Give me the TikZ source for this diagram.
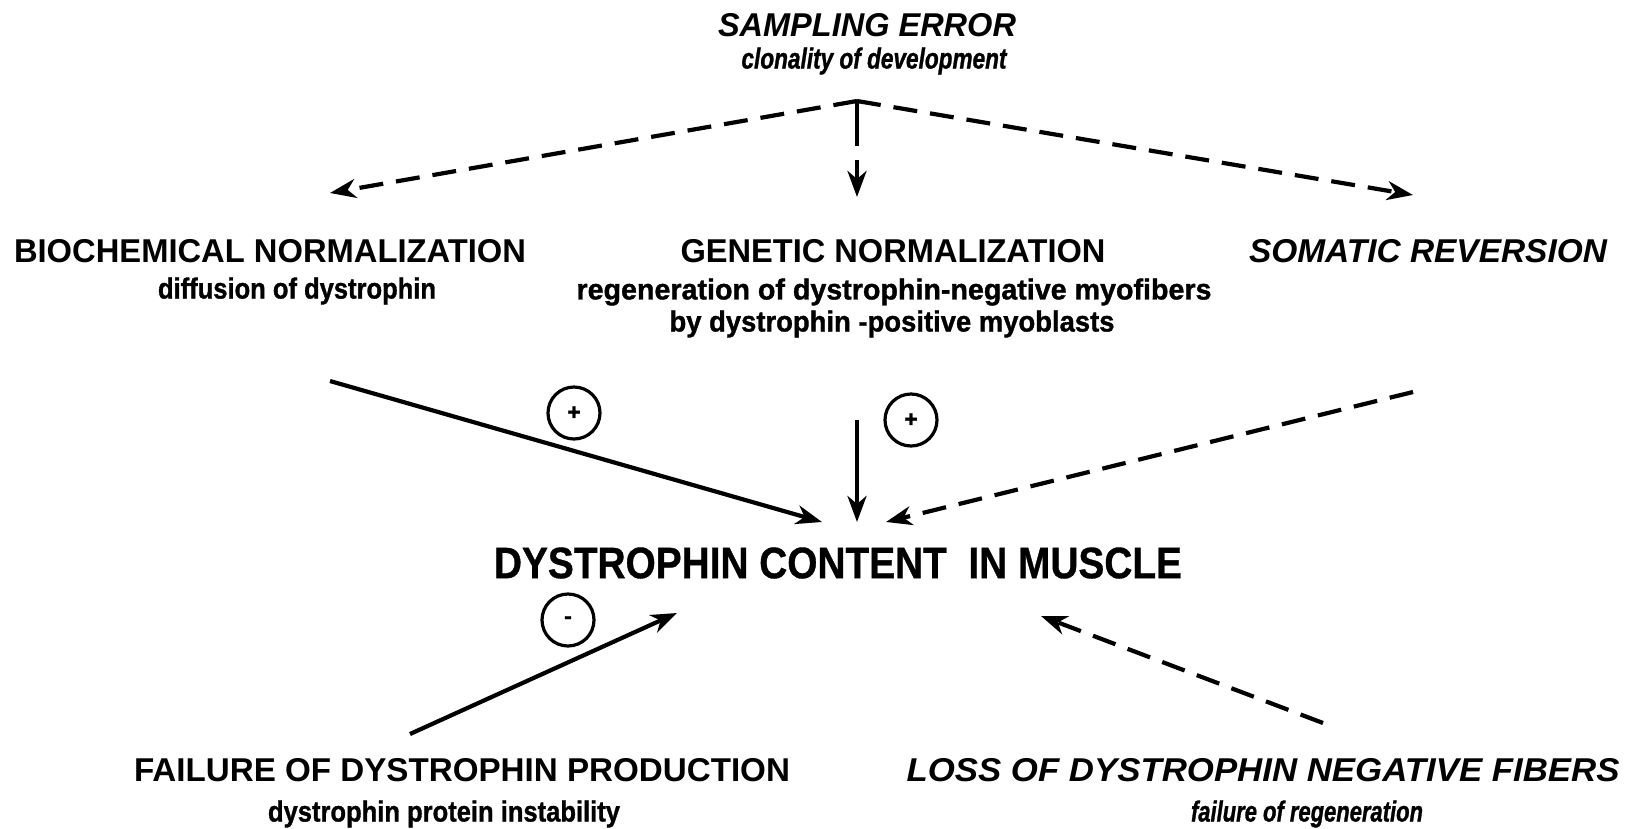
\documentclass[tikz,border=0pt]{standalone}
\usepackage{graphicx}
\usepackage{fontspec}
\setmainfont{Liberation Sans}
\newfontfamily\subf{Liberation Sans Bold}[FakeBold=1.2]
\newfontfamily\subfi{Liberation Sans Bold Italic}[FakeBold=1.2]
\newfontfamily\bigf{Liberation Sans Bold}[FakeBold=0.8]
\usetikzlibrary{arrows.meta}
\newsavebox\fitbox
\newlength\fitlen
\newcommand\fitto[2]{\sbox\fitbox{#2}\setlength\fitlen{\wd\fitbox}\pgfmathsetmacro\fitr{#1/\fitlen}\scalebox{\fitr}[1]{\usebox\fitbox}}
\begin{document}
\begin{tikzpicture}[x=1pt,y=-1pt,
  ttl/.style={font=\bfseries\fontsize{33}{36}\selectfont, inner sep=0pt},
  sub/.style={font=\subf\fontsize{29}{32}\selectfont, inner sep=0pt},
  subi/.style={font=\subfi\fontsize{29}{32}\selectfont, inner sep=0pt},
  big/.style={font=\bigf\fontsize{44}{48}\selectfont, inner sep=0pt},
  sgn/.style={circle, draw, line width=3.2pt, minimum size=52pt, inner sep=0pt, font=\subf\fontsize{23}{23}\selectfont},
  arr/.style={line width=4.2pt, -{Stealth[length=26pt,width=19pt,inset=8pt]}},
  dsh/.style={arr, dash pattern=on 24pt off 13pt},
]
\useasboundingbox (0,0) rectangle (1627,828);
% texts
\node[ttl] (samp) at (867,25) {\fitto{298}{\itshape SAMPLING ERROR}};
\node[subi] (clon) at (874,61) {\fitto{265}{clonality of development}};
\node[ttl] (bio) at (270,251) {\fitto{512}{BIOCHEMICAL NORMALIZATION}};
\node[sub] (diff) at (297,291) {\fitto{278}{diffusion of dystrophin}};
\node[ttl] (gen) at (893,251) {\fitto{425}{GENETIC NORMALIZATION}};
\node[sub] (regen) at (894,292) {\fitto{635}{regeneration of dystrophin-negative myofibers}};
\node[sub] (bydys) at (892,324) {\fitto{445}{by dystrophin -positive myoblasts}};
\node[ttl] (som) at (1428,251) {\fitto{358}{\itshape SOMATIC REVERSION}};
\node[big] (dys) at (838,563) {\fitto{688}{DYSTROPHIN CONTENT\ \ IN MUSCLE}};
\node[ttl] (fail) at (462,770) {\fitto{656}{FAILURE OF DYSTROPHIN PRODUCTION}};
\node[sub] (inst) at (444,814) {\fitto{352}{dystrophin protein instability}};
\node[ttl] (loss) at (1263,770) {\fitto{713}{\itshape LOSS OF DYSTROPHIN NEGATIVE FIBERS}};
\node[subi] (freg) at (1307,814) {\fitto{232}{failure of regeneration}};
% signs
\node[sgn] (p1) at (574,413) {+};
\node[sgn] (p2) at (911,420) {+};
\node[sgn] (m1) at (568,620) {-};
% connector ends
\coordinate (apex) at (857,101);
\coordinate (sL) at (330,193);
\coordinate (sR) at (1413,195);
\coordinate (sM) at (857,197);
\coordinate (bS) at (330,381);
\coordinate (bE) at (822,522);
\coordinate (gS) at (857,420);
\coordinate (gE) at (857,522);
\coordinate (rS) at (1413,392);
\coordinate (rE) at (886,522);
\coordinate (fS) at (410,734);
\coordinate (fE) at (677,613);
\coordinate (lS) at (1323,723);
\coordinate (lE) at (1041,616);
% connectors
\draw[dsh] (apex) -- (sL);
\draw[dsh] (apex) -- (sR);
\draw[arr, dash pattern=on 45pt off 14pt] (apex) -- (sM);
\draw[arr] (bS) -- (bE);
\draw[arr] (gS) -- (gE);
\draw[dsh] (rS) -- (rE);
\draw[arr] (fS) -- (fE);
\draw[dsh] (lS) -- (lE);
\end{tikzpicture}
\end{document}
